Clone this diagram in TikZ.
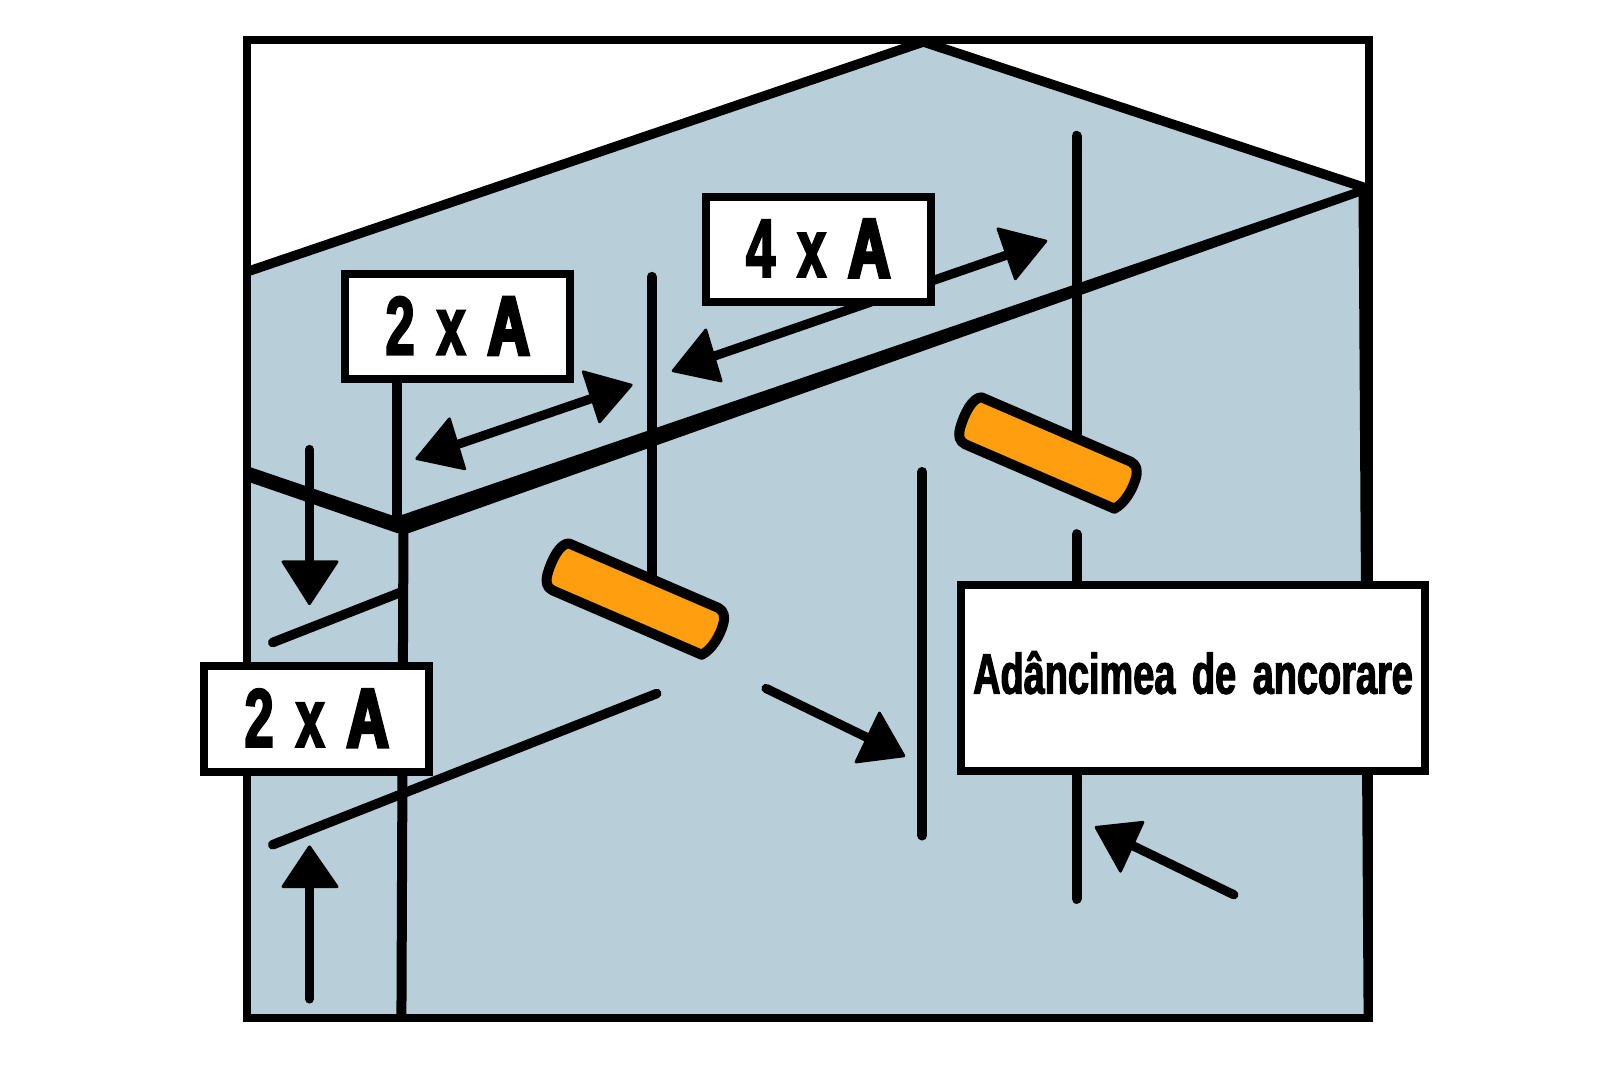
\documentclass[tikz,border=0pt]{standalone}
\usepackage{fontspec}
\newfontfamily\narrowfont[FakeStretch=0.63,FakeBold=2.4]{Liberation Sans Bold}
\newfontfamily\heavyfont[FakeStretch=0.70,FakeBold=4.5]{Liberation Sans Bold}
\newfontfamily\labelfont[FakeStretch=0.665,FakeBold=2.0]{Liberation Sans Bold}
\newcommand{\dimlabel}[1]{{\narrowfont\fontsize{41.5}{41.5}\selectfont #1\hspace{11pt}x\hspace{11pt}}{\heavyfont\fontsize{41.5}{41.5}\selectfont A}}
\definecolor{wallblue}{HTML}{B8CED8}
\definecolor{plugorange}{HTML}{FF9E0F}
\tikzset{
  line/.style={draw=black,line width=5pt,line cap=round},
  obline/.style={line,line width=4.8pt},
  shaft/.style={line,line width=4.6pt},
  frameline/.style={draw=black,line width=4pt,line join=miter},
  headfill/.style={fill=black,draw=black,line width=1.4pt,line join=round},
  labelbox/.style={draw=black,line width=4pt,fill=white,inner sep=0pt,anchor=center},
  dimbox/.style={labelbox,minimum width=112.6pt,minimum height=52.6pt,text depth=0pt,text height=27.7pt},
  plug/.style={fill=plugorange,draw=black,line width=5pt,line join=round},
}
\begin{document}
\begin{tikzpicture}[x=0.5107pt,y=-0.5107pt]
\useasboundingbox (0,0) rectangle (1568.4,1045.6);
% wall
\fill[wallblue] (242,266) -- (904,41) -- (1337,184) -- (1337,997) -- (242,997) -- cycle;
\draw[frameline] (241.5,39) rectangle (1340,997);
\draw[frameline,line width=4.8pt] (242,266) -- (904,41) -- (1337,184);
\fill[black] (244,457) -- (388,506) -- (1337,181) -- (1337,190) -- (400,522) -- (389,522) -- (244,472) -- cycle;
\fill[black] (1330,186) -- (1342,186) -- (1342,997) -- (1335,997) -- cycle;
% coordinates of free ends
\coordinate (p1a) at (389,373); \coordinate (p1b) at (389,510);
\coordinate (p2a) at (395,520); \coordinate (p2b) at (393,997);
\coordinate (v1a) at (638,271); \coordinate (v1b) at (638,565);
\coordinate (v2a) at (1054,133); \coordinate (v2b) at (1054,425);
\coordinate (v3a) at (1054,523); \coordinate (v3b) at (1054,575);
\coordinate (v4a) at (1054,755); \coordinate (v4b) at (1054,880);
\coordinate (v5a) at (903,462); \coordinate (v5b) at (903,818);
\coordinate (o1a) at (267,629); \coordinate (o1b) at (392,580);
\coordinate (o2a) at (267,827); \coordinate (o2b) at (643,679);
\draw[line,line cap=butt] (p1a) -- (p1b);
\draw[line,line cap=butt] (p2a) -- (p2b);
\draw[line] (v1a) -- (v1b);
\draw[line] (v2a) -- (v2b);
\draw[line] (v3a) -- (v3b);
\draw[line] (v4a) -- (v4b);
\draw[line] (v5a) -- (v5b);
\draw[obline] (o1a) -- (o1b);
\draw[obline] (o2a) -- (o2b);
% plugs
\draw[plug] (557,532) -- (703,595) .. controls (709,598) and (710,604) .. (708,611) .. controls (705,622) and (697,636) .. (687,641) -- (541,578) .. controls (535,575) and (534,570) .. (536,562) .. controls (540,548) and (548,532) .. (557,532) -- cycle;
\draw[plug] (961,389) -- (1107,452) .. controls (1113,455) and (1114,461) .. (1112,468) .. controls (1109,479) and (1101,493) .. (1091,498) -- (945,435) .. controls (939,432) and (938,427) .. (940,419) .. controls (944,405) and (952,389) .. (961,389) -- cycle;
% arrows
\coordinate (a1a) at (425,443); \coordinate (a1b) at (600,383);
\draw[shaft,line cap=butt] (a1a) -- (a1b);
\draw[headfill] (408,449) -- (440,410) -- (455,459) -- cycle;
\draw[headfill] (618,377) -- (571,364) -- (587,413) -- cycle;
\coordinate (a2a) at (675,357); \coordinate (a2b) at (1005,243);
\draw[shaft,line cap=butt] (a2a) -- (a2b);
\draw[headfill] (659,363) -- (691,323) -- (706,373) -- cycle;
\draw[headfill] (1024,236) -- (977,224) -- (994,273) -- cycle;
\coordinate (a3a) at (303,440); \coordinate (a3b) at (303,560);
\draw[shaft] (a3a) -- (a3b);
\draw[headfill] (303,591) -- (277,550) -- (330,550) -- cycle;
\coordinate (a4a) at (303,978); \coordinate (a4b) at (303,860);
\draw[shaft] (a4a) -- (a4b);
\draw[headfill] (303,829) -- (277,868) -- (330,868) -- cycle;
\coordinate (a5a) at (750,674); \coordinate (a5b) at (855,725);
\draw[shaft] (a5a) -- (a5b);
\draw[headfill] (885,740) -- (861,698) -- (838,746) -- cycle;
\coordinate (a6a) at (1208,876); \coordinate (a6b) at (1105,826);
\draw[shaft] (a6a) -- (a6b);
\draw[headfill] (1073,810) -- (1119,805) -- (1097,853) -- cycle;
% label boxes
\node[dimbox] (b4) at (801,244) {\dimlabel{4}};
\node[dimbox] (b2) at (448,320) {\dimlabel{2}};
\node[dimbox] (b3) at (310,704) {\dimlabel{2}};
\node[labelbox,minimum width=232.4pt,minimum height=93pt,text depth=0pt,text height=15.4pt] (b1) at (1168,664) {\labelfont\fontsize{28.5}{28.5}\selectfont Adâncimea\hspace{3pt} de\hspace{3pt} ancorare};
\end{tikzpicture}
\end{document}
